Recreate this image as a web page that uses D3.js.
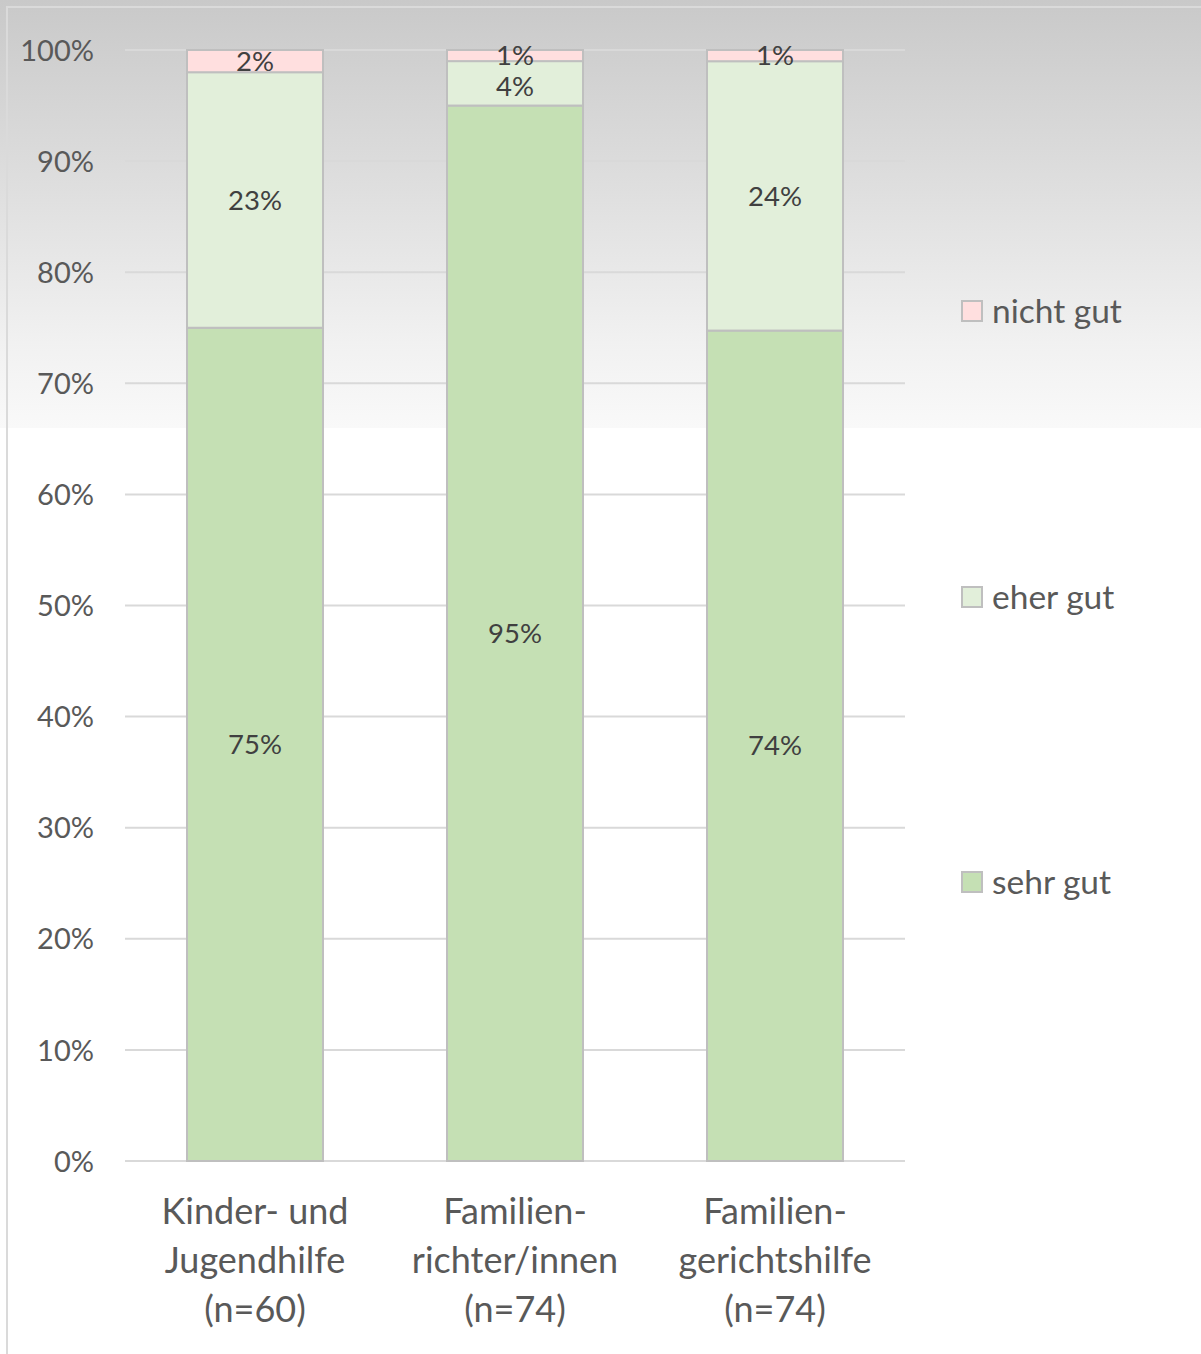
<!DOCTYPE html>
<html>
<head>
<meta charset="utf-8">
<script src="https://cdn.jsdelivr.net/npm/d3@7"></script>
<style>
  html, body { margin: 0; padding: 0; background: #fff; }
  svg { display: block; font-family: Lato, "Open Sans", sans-serif; }
</style>
</head>
<body>
<svg id="chart" width="1201" height="1354"></svg>
<script>
// Categories (each label split into lines) and stacked shares in percent
const categories = [
  ["Kinder- und", "Jugendhilfe", "(n=60)"],
  ["Familien-", "richter/innen", "(n=74)"],
  ["Familien-", "gerichtshilfe", "(n=74)"]
];
const seriesNames = ["sehr gut", "eher gut", "nicht gut"];
const sehrGut  = [75, 95, 74];
const eherGut  = [23, 4, 24];
const nichtGut = [2, 1, 1];
const yTicks = [0, 0.1, 0.2, 0.3, 0.4, 0.5, 0.6, 0.7, 0.8, 0.9, 1];

const colors = { "sehr gut": "#c5e0b4", "eher gut": "#e2efda", "nicht gut": "#ffdfdf" };
const textColor = "#595959";

const svg = d3.select("#chart");
const W = 1201, H = 1354;

// Background: grey fading to white in the upper part
const defs = svg.append("defs");
const grad = defs.append("linearGradient")
  .attr("id", "bg").attr("gradientUnits", "userSpaceOnUse")
  .attr("x1", 0).attr("y1", 0).attr("x2", 0).attr("y2", 428);
grad.append("stop").attr("offset", 0).attr("stop-color", "#c9c9c9");
grad.append("stop").attr("offset", 0.45).attr("stop-color", "#dfdfdf");
grad.append("stop").attr("offset", 0.8).attr("stop-color", "#f1f1f1");
grad.append("stop").attr("offset", 0.999).attr("stop-color", "#f9f9f9");
grad.append("stop").attr("offset", 1).attr("stop-color", "#ffffff");
svg.append("rect").attr("width", W).attr("height", H).attr("fill", "url(#bg)");
svg.append("rect").attr("x", 7).attr("y", 7).attr("width", W + 10).attr("height", H + 10)
  .attr("fill", "none").attr("stroke", "#dadada").attr("stroke-width", 2);

const plot = { left: 125, right: 905, top: 50, bottom: 1161 };

const x = d3.scaleBand()
  .domain(d3.range(categories.length))
  .range([plot.left, plot.right])
  .paddingInner(0.477).paddingOuter(0.2385);

// 100 % stacked: each bar is normalised to its own total
const y = d3.scaleLinear().domain([0, 1]).range([plot.bottom, plot.top]);

// Gridlines
svg.append("g").selectAll("line").data(yTicks).join("line")
  .attr("x1", plot.left).attr("x2", plot.right)
  .attr("y1", d => y(d)).attr("y2", d => y(d))
  .attr("stroke", "#d9d9d9").attr("stroke-width", 2);

// Y axis labels
const yAxis = d3.axisLeft(y).tickValues(yTicks).tickFormat(d3.format(".0%")).tickSize(0).tickPadding(0);
const yg = svg.append("g").attr("transform", `translate(94,0)`).call(yAxis);
yg.select(".domain").remove();
yg.selectAll("text").attr("fill", textColor).attr("font-size", 29)
  .attr("font-family", "Lato, sans-serif").attr("dy", "0.35em");

// Stacked bars
const table = categories.map((c, i) => ({ i, "sehr gut": sehrGut[i], "eher gut": eherGut[i], "nicht gut": nichtGut[i] }));
const stacked = d3.stack().keys(seriesNames).offset(d3.stackOffsetExpand)(table);

const layers = svg.append("g").selectAll("g").data(stacked).join("g")
  .attr("fill", d => colors[d.key]);
layers.selectAll("rect").data(d => d).join("rect")
  .attr("x", d => x(d.data.i))
  .attr("width", x.bandwidth())
  .attr("y", d => y(d[1]))
  .attr("height", d => y(d[0]) - y(d[1]))
  .attr("stroke", "#bfbfbf").attr("stroke-width", 2);

// Value labels centred in each segment; within a bar, labels are pushed
// down from the top so that neighbouring labels keep a minimum gap
const minGap = 31;
const lbl = svg.append("g");
categories.forEach((c, i) => {
  let prevY = -Infinity;
  for (let s = stacked.length - 1; s >= 0; s--) {
    const d = stacked[s][i];
    let ly = Math.max((y(d[0]) + y(d[1])) / 2, prevY + minGap);
    prevY = ly;
    lbl.append("text")
      .attr("x", x(i) + x.bandwidth() / 2)
      .attr("y", ly)
      .attr("dy", "0.35em")
      .attr("text-anchor", "middle")
      .attr("fill", "#404040").attr("font-size", 27.5)
      .text(d.data[stacked[s].key] + "%");
  }
});

// Category labels
const cg = svg.append("g");
categories.forEach((lines, i) => {
  const cx = x(i) + x.bandwidth() / 2;
  const t = cg.append("text")
    .attr("x", cx).attr("y", 1224)
    .attr("text-anchor", "middle")
    .attr("fill", textColor).attr("font-size", 36);
  lines.forEach((ln, k) => {
    t.append("tspan").attr("x", cx).attr("dy", k === 0 ? 0 : 49).text(ln);
  });
});

// Legend (top entry is the top segment)
const legendY = { "nicht gut": 311, "eher gut": 597, "sehr gut": 882 };
const lg = svg.append("g");
seriesNames.forEach(name => {
  const cy = legendY[name];
  lg.append("rect").attr("x", 962).attr("y", cy - 10).attr("width", 20).attr("height", 20)
    .attr("fill", colors[name]).attr("stroke", "#bfbfbf").attr("stroke-width", 2);
  lg.append("text").attr("x", 992).attr("y", cy).attr("dy", "0.35em")
    .attr("fill", textColor).attr("font-size", 33.5).text(name);
});
</script>
</body>
</html>
